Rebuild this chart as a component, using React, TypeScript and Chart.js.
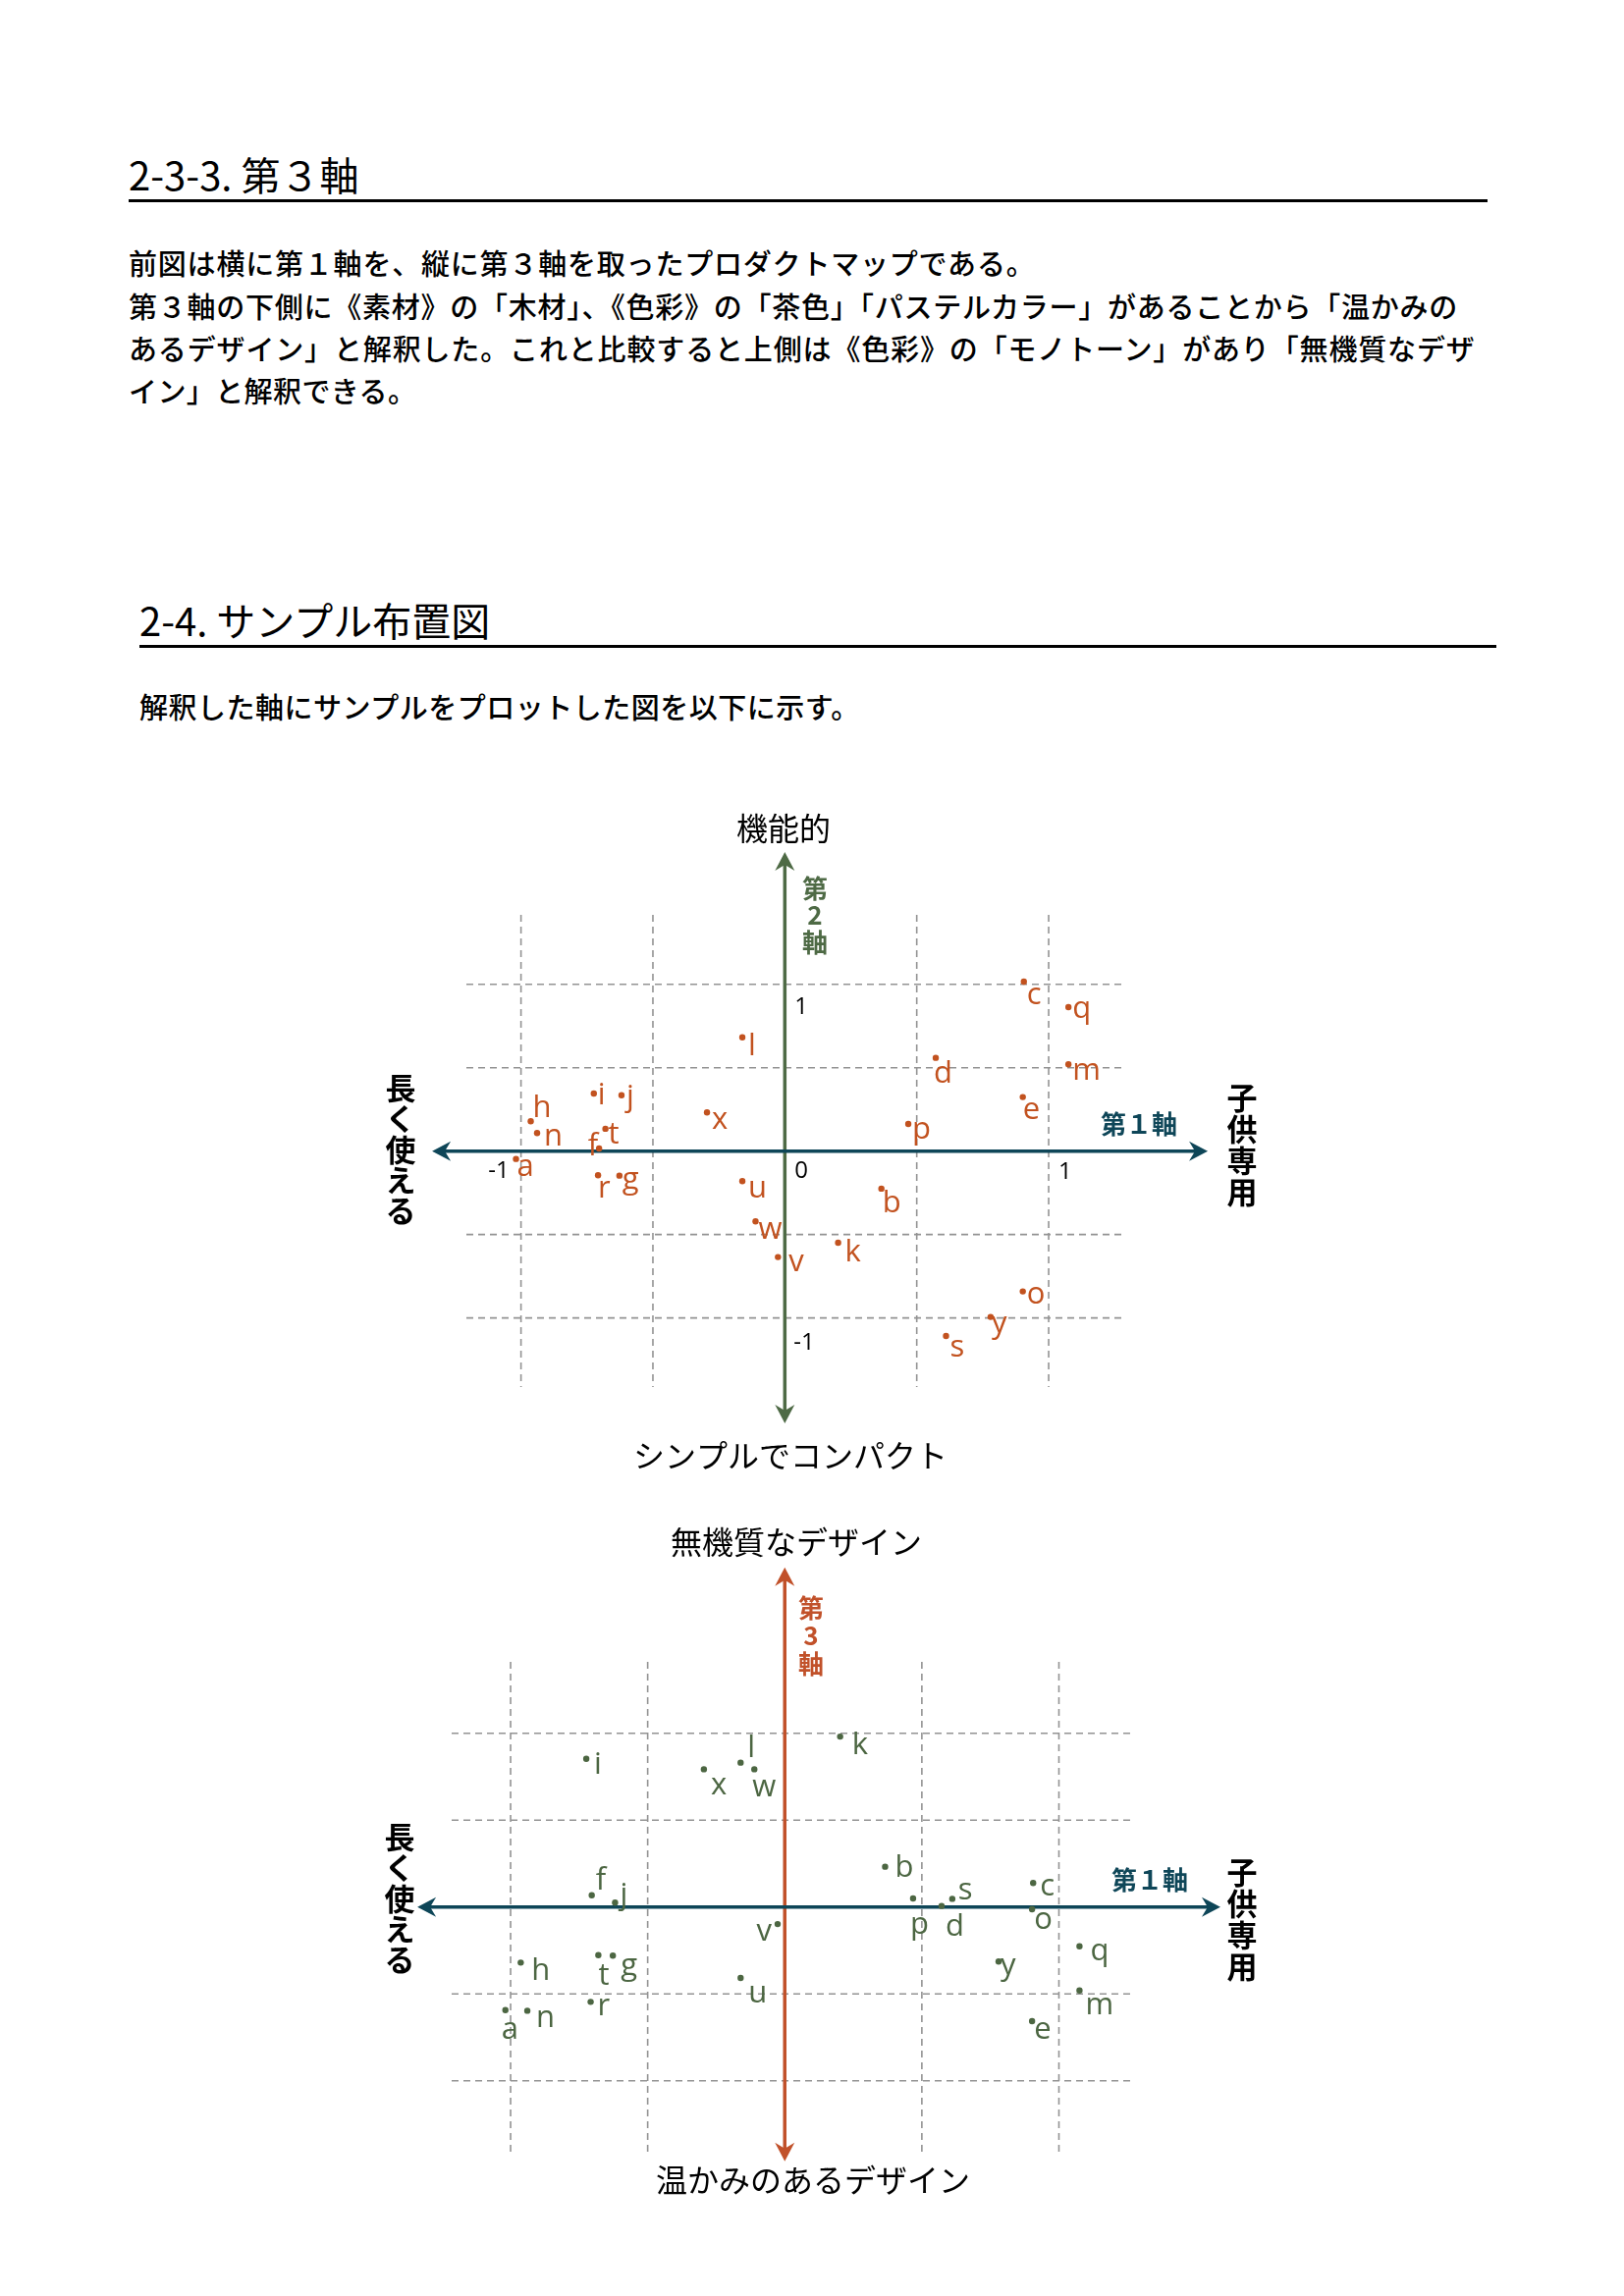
import React, { useEffect, useRef } from 'react';
import { Chart, registerables } from 'chart.js';

Chart.register(...registerables);

// ---------------- data ----------------
const sampleIds = ['a', 'b', 'c', 'd', 'e', 'f', 'g', 'h', 'i', 'j', 'k', 'l', 'm', 'n', 'o', 'p', 'q', 'r', 's', 't', 'u', 'v', 'w', 'x', 'y'];
// 第1軸 (長く使える ← → 子供専用)
const axis1Scores = [-1.019, 0.366, 0.906, 0.572, 0.902, -0.704, -0.627, -0.963, -0.724, -0.619, 0.202, -0.161, 1.075, -0.939, 0.902, 0.468, 1.075, -0.708, 0.611, -0.68, -0.161, -0.026, -0.111, -0.295, 0.78];
// 第2軸 (シンプルでコンパクト ← → 機能的)
const axis2Scores = [-0.047, -0.225, 1.016, 0.559, 0.324, 0.016, -0.147, 0.179, 0.345, 0.335, -0.549, 0.682, 0.52, 0.108, -0.841, 0.163, 0.863, -0.145, -1.108, 0.134, -0.18, -0.635, -0.421, 0.232, -0.994];
// 第3軸 (温かみのあるデザイン ← → 無機質なデザイン)
const axis3Scores = [-0.593, 0.232, 0.138, 0.006, -0.657, 0.068, -0.28, -0.32, 0.853, 0.025, 0.981, 0.831, -0.48, -0.597, -0.013, 0.049, -0.226, -0.546, 0.047, -0.277, -0.408, -0.098, 0.793, 0.793, -0.314];

const gridSteps = [-1, -0.5, 0.5, 1];
const xTickValues = [-1, 0, 1];
const xTickLabels = ['-1', '0', '1'];
const yTickValues = [1, -1];
const yTickLabels = ['1', '-1'];

// ---------------- styles ----------------
const FONT_JP = '"Noto Sans CJK JP", "Noto Sans", sans-serif';
const FONT_LATIN = '"Open Sans", "Noto Sans", sans-serif';
const TEAL = '#0e4658';
const GREEN = '#4e6a45';
const ORANGE = '#c1512a';
const POINT_ORANGE = '#c2521f';
const POINT_GREEN = '#4c6642';
const GRID_COLOR = '#939393';

type Off = [number, number, string?];

const labelOffsets1: Record<string, Off> = {
  a: [1, 17], b: [1, 24], c: [3, 23], d: [-2, 25], e: [0, 22], f: [-1, 7, 'r'], g: [3, 13], h: [2, -4],
  i: [4, 11], j: [5, 11], k: [7, 19], l: [6, 18], m: [4, 16], n: [7, 13], o: [4, 12], p: [4, 15],
  q: [4, 11], r: [0, 23], s: [4, 21], t: [3, 15], u: [6, 17], v: [11, 14], w: [3, 18], x: [5, 17], y: [1, 16],
};
const labelOffsets2: Record<string, Off> = {
  a: [-4, 29], b: [10, 10], c: [7, 13], d: [4, 30], e: [2, 18], f: [4, -6], g: [8, 20], h: [11, 18],
  i: [8, 15], j: [5, 2], k: [12, 18], l: [7, -6], m: [6, 24], n: [9, 17], o: [2, 20], p: [-3, 36],
  q: [11, 14], r: [7, 14], s: [6, 1], t: [0, 30], u: [8, 25], v: [-6, 17, 'r'], w: [-2, 28], x: [7, 26], y: [2, 14],
};

interface TextItem { text: string; x: number; y: number; font: string; color: string; step?: number }

interface MapConfig {
  left: number; top: number; width: number; height: number;
  padding: { left: number; right: number; top: number; bottom: number };
  xRange: [number, number]; yRange: [number, number];
  arrowX: [number, number]; arrowY: [number, number];
  yScores: number[];
  pointColor: string; vColor: string;
  offsets: Record<string, Off>;
  ticks: boolean;
  texts: TextItem[];
}

const END_FONT = `400 32px ${FONT_JP}`;
const SIDE_FONT = `700 31px ${FONT_JP}`;
const AXNAME_FONT = `700 26px ${FONT_JP}`;

const chart1Cfg: MapConfig = {
  left: 380, top: 820, width: 920, height: 700,
  padding: { left: 95, right: 157, top: 112, bottom: 107 },
  xRange: [-1.207, 1.279], yRange: [-1.414, 1.416],
  arrowX: [-1.337, 1.603], arrowY: [-1.631, 1.792],
  yScores: axis2Scores,
  pointColor: POINT_ORANGE, vColor: GREEN,
  offsets: labelOffsets1,
  ticks: true,
  texts: [
    { text: '機能的', x: 798, y: 844, font: END_FONT, color: '#000' },
    { text: 'シンプルでコンパクト', x: 805, y: 1483, font: END_FONT, color: '#000' },
    { text: '長く使える', x: 408, y: 1108, font: SIDE_FONT, color: '#000', step: 31.4 },
    { text: '子供専用', x: 1265, y: 1118, font: SIDE_FONT, color: '#000', step: 32 },
    { text: '第2軸', x: 830, y: 905, font: AXNAME_FONT, color: GREEN, step: 27.5 },
    { text: '第１軸', x: 1160, y: 1145, font: AXNAME_FONT, color: TEAL },
  ],
};

const chart2Cfg: MapConfig = {
  left: 380, top: 1545, width: 920, height: 700,
  padding: { left: 80, right: 145, top: 148, bottom: 52 },
  xRange: [-1.215, 1.274], yRange: [-1.414, 1.411],
  arrowX: [-1.34, 1.589], arrowY: [-1.463, 1.955],
  yScores: axis3Scores,
  pointColor: POINT_GREEN, vColor: ORANGE,
  offsets: labelOffsets2,
  ticks: false,
  texts: [
    { text: '無機質なデザイン', x: 811, y: 1571, font: END_FONT, color: '#000' },
    { text: '温かみのあるデザイン', x: 828, y: 2221, font: END_FONT, color: '#000' },
    { text: '長く使える', x: 407, y: 1871, font: SIDE_FONT, color: '#000', step: 31.4 },
    { text: '子供専用', x: 1265, y: 1907, font: SIDE_FONT, color: '#000', step: 32 },
    { text: '第3軸', x: 826, y: 1638, font: AXNAME_FONT, color: ORANGE, step: 28.5 },
    { text: '第１軸', x: 1171, y: 1915, font: AXNAME_FONT, color: TEAL },
  ],
};

function drawArrowHead(ctx: CanvasRenderingContext2D, tx: number, ty: number, dx: number, dy: number, color: string) {
  const L = 19, W = 10, notch = 6;
  const bx = tx - dx * L, by = ty - dy * L;
  const px = -dy, py = dx;
  ctx.fillStyle = color;
  ctx.beginPath();
  ctx.moveTo(tx, ty);
  ctx.lineTo(bx + px * W, by + py * W);
  ctx.lineTo(tx - dx * (L - notch), ty - dy * (L - notch));
  ctx.lineTo(bx - px * W, by - py * W);
  ctx.closePath();
  ctx.fill();
}

function drawDoubleArrow(ctx: CanvasRenderingContext2D, x1: number, y1: number, x2: number, y2: number, color: string, width: number) {
  const len = Math.hypot(x2 - x1, y2 - y1);
  const dx = (x2 - x1) / len, dy = (y2 - y1) / len;
  ctx.strokeStyle = color;
  ctx.lineWidth = width;
  ctx.setLineDash([]);
  ctx.beginPath();
  ctx.moveTo(x1 + dx * 12, y1 + dy * 12);
  ctx.lineTo(x2 - dx * 12, y2 - dy * 12);
  ctx.stroke();
  drawArrowHead(ctx, x2, y2, dx, dy, color);
  drawArrowHead(ctx, x1, y1, -dx, -dy, color);
}

function makeDecor(cfg: MapConfig) {
  return {
    id: 'mapDecor',
    beforeDatasetsDraw(chart: any) {
      const { ctx, chartArea, scales } = chart;
      const xs = scales.x, ys = scales.y;
      ctx.save();
      ctx.strokeStyle = GRID_COLOR;
      ctx.lineWidth = 1.6;
      ctx.setLineDash([7, 5]);
      for (const v of gridSteps) {
        const px = xs.getPixelForValue(v);
        ctx.beginPath();
        ctx.moveTo(px, chartArea.top);
        ctx.lineTo(px, chartArea.bottom);
        ctx.stroke();
        const py = ys.getPixelForValue(v);
        ctx.beginPath();
        ctx.moveTo(chartArea.left, py);
        ctx.lineTo(chartArea.right, py);
        ctx.stroke();
      }
      const x0 = xs.getPixelForValue(0), y0 = ys.getPixelForValue(0);
      drawDoubleArrow(ctx, x0, ys.getPixelForValue(cfg.arrowY[0]), x0, ys.getPixelForValue(cfg.arrowY[1]), cfg.vColor, 3.5);
      drawDoubleArrow(ctx, xs.getPixelForValue(cfg.arrowX[0]), y0, xs.getPixelForValue(cfg.arrowX[1]), y0, TEAL, 3.5);
      ctx.restore();
    },
    afterDatasetsDraw(chart: any) {
      const { ctx, scales } = chart;
      const xs = scales.x, ys = scales.y;
      const meta = chart.getDatasetMeta(0);
      ctx.save();
      // point labels
      ctx.font = `500 31px ${FONT_LATIN}`;
      ctx.fillStyle = cfg.pointColor;
      ctx.textBaseline = 'alphabetic';
      meta.data.forEach((pt: any, i: number) => {
        const id = sampleIds[i];
        const off = cfg.offsets[id] || [6, 14];
        ctx.textAlign = off[2] === 'r' ? 'right' : 'left';
        ctx.fillText(id, pt.x + off[0], pt.y + off[1]);
      });
      // tick labels
      if (cfg.ticks) {
        const x0 = xs.getPixelForValue(0), y0 = ys.getPixelForValue(0);
        ctx.font = `400 24px ${FONT_LATIN}`;
        ctx.fillStyle = '#000';
        xTickValues.forEach((v, i) => {
          const px = xs.getPixelForValue(v);
          if (v < 0) { ctx.textAlign = 'right'; ctx.fillText(xTickLabels[i], px - 12, y0 + 27); }
          else if (v === 0) { ctx.textAlign = 'left'; ctx.fillText(xTickLabels[i], x0 + 10, y0 + 27); }
          else { ctx.textAlign = 'left'; ctx.fillText(xTickLabels[i], px + 10, y0 + 28); }
        });
        yTickValues.forEach((v, i) => {
          const py = ys.getPixelForValue(v);
          ctx.textAlign = 'left';
          ctx.fillText(yTickLabels[i], x0 + (v < 0 ? 9 : 10), py + (v < 0 ? 32 : 30));
        });
      }
      // axis texts
      ctx.textAlign = 'center';
      ctx.textBaseline = 'middle';
      for (const t of cfg.texts) {
        ctx.font = t.font;
        ctx.fillStyle = t.color;
        const cx = t.x - cfg.left, cy = t.y - cfg.top;
        if (t.step) {
          Array.from(t.text).forEach((ch, k) => ctx.fillText(ch, cx, cy + k * t.step!));
        } else {
          ctx.fillText(t.text, cx, cy);
        }
      }
      ctx.restore();
    },
  };
}

function MapChart({ cfg }: { cfg: MapConfig }) {
  const ref = useRef<HTMLCanvasElement | null>(null);
  useEffect(() => {
    if (!ref.current) return;
    const chart = new Chart(ref.current, {
      type: 'scatter',
      data: {
        datasets: [{
          data: sampleIds.map((_, i) => ({ x: axis1Scores[i], y: cfg.yScores[i] })),
          pointRadius: 3.2,
          pointBackgroundColor: cfg.pointColor,
          pointBorderWidth: 0,
          showLine: false,
        }],
      },
      options: {
        responsive: false,
        animation: false,
        devicePixelRatio: 1,
        events: [],
        layout: { padding: cfg.padding },
        plugins: { legend: { display: false }, tooltip: { enabled: false } },
        scales: {
          x: { type: 'linear', min: cfg.xRange[0], max: cfg.xRange[1], display: false },
          y: { type: 'linear', min: cfg.yRange[0], max: cfg.yRange[1], display: false },
        },
      },
      plugins: [makeDecor(cfg)],
    } as any);
    return () => chart.destroy();
  }, [cfg]);
  return (
    <canvas
      ref={ref}
      width={cfg.width}
      height={cfg.height}
      style={{ position: 'absolute', left: cfg.left, top: cfg.top, width: cfg.width, height: cfg.height }}
    />
  );
}

const paraLines: { text: string; y: number; ls: number }[] = [
  { text: '前図は横に第１軸を、縦に第３軸を取ったプロダクトマップである。', y: 268, ls: 0.8 },
  { text: '第３軸の下側に《素材》の「木材」、《色彩》の「茶色」「パステルカラー」があることから「温かみの', y: 312, ls: 0.75 },
  { text: 'あるデザイン」と解釈した。これと比較すると上側は《色彩》の「モノトーン」があり「無機質なデザ', y: 355, ls: 0.85 },
  { text: 'イン」と解釈できる。', y: 398, ls: 0.4 },
];

export default function App() {
  useEffect(() => {
    document.body.style.margin = '0';
    document.body.style.background = '#fff';
  }, []);
  const abs = (left: number, centerY: number, size: number, extra: React.CSSProperties = {}): React.CSSProperties => ({
    position: 'absolute', left, top: centerY - size, height: size * 2, lineHeight: `${size * 2}px`,
    fontSize: size, whiteSpace: 'nowrap', ...extra,
  });
  return (
    <div style={{ position: 'absolute', left: 0, top: 0, width: 1654, height: 2339, background: '#fff', fontFamily: FONT_JP, color: '#000' }}>
      <div style={abs(131, 177, 40, { fontWeight: 400 })}>2-3-3. 第３軸</div>
      <div style={{ position: 'absolute', left: 131, top: 203, width: 1384, height: 3, background: '#000' }} />
      {paraLines.map((l, i) => (
        <div key={i} style={abs(131, l.y - 1, 29, { fontWeight: 500, letterSpacing: l.ls })}>{l.text}</div>
      ))}
      <div style={abs(142, 631, 40, { fontWeight: 400 })}>2-4. サンプル布置図</div>
      <div style={{ position: 'absolute', left: 142, top: 657, width: 1382, height: 3, background: '#000' }} />
      <div style={abs(142, 719, 29, { fontWeight: 500, letterSpacing: 0.5 })}>解釈した軸にサンプルをプロットした図を以下に示す。</div>
      <MapChart cfg={chart1Cfg} />
      <MapChart cfg={chart2Cfg} />
    </div>
  );
}
